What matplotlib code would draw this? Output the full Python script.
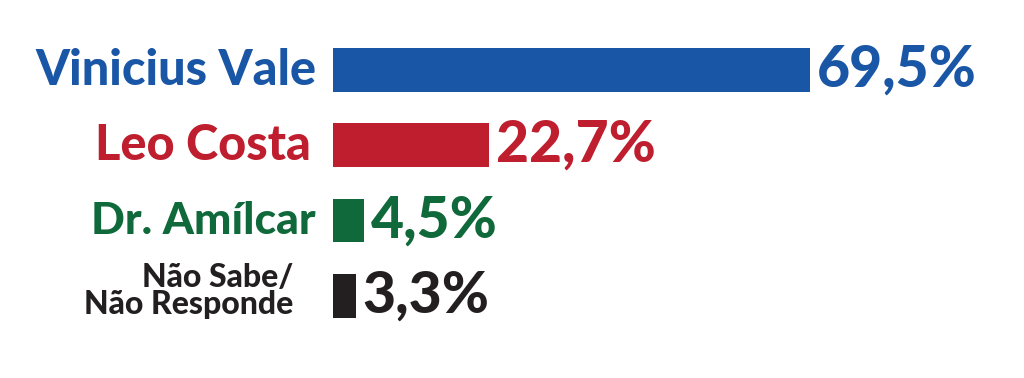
import matplotlib
matplotlib.use("Agg")
import matplotlib.pyplot as plt

# dados
nomes = ["Vinicius Vale", "Leo Costa", "Dr. Amílcar", "Não Sabe/\nNão Responde"]
valores = [69.5, 22.7, 4.5, 3.3]
rotulos = ["69,5%", "22,7%", "4,5%", "3,3%"]
cores = ["#1a56a6", "#be1e2d", "#10693a", "#231f20"]
tam_nome = [35, 35, 32, 23]
tam_valor = [41, 41, 41, 41]
desloc_nome = [(-17, 0), (-22, 0), (-17, 0), (-40, 5)]

plt.rcParams['font.family'] = ['Lato', 'DejaVu Sans']

fig = plt.figure(figsize=(10.24, 3.78), dpi=100)
ax = fig.add_axes([333 / 1024, 0, 686 / 1024, 1])
pos = list(range(len(valores)))
ax.barh(pos, valores, height=0.58, color=cores)
ax.set_xlim(0, 100)
ax.set_ylim(4.09, -0.93)
ax.axis("off")

for i, (n, v, r, c) in enumerate(zip(nomes, valores, rotulos, cores)):
    ax.annotate(n, xy=(0, i), xytext=desloc_nome[i], textcoords="offset pixels",
                ha="right", va="center", color=c, fontsize=tam_nome[i],
                fontweight="black", linespacing=0.9)
    ax.annotate(r, xy=(v, i), xytext=(7, 0), textcoords="offset pixels",
                ha="left", va="center", color=c, fontsize=tam_valor[i],
                fontweight="black")

fig.savefig("out.png", dpi=100, facecolor="white")
